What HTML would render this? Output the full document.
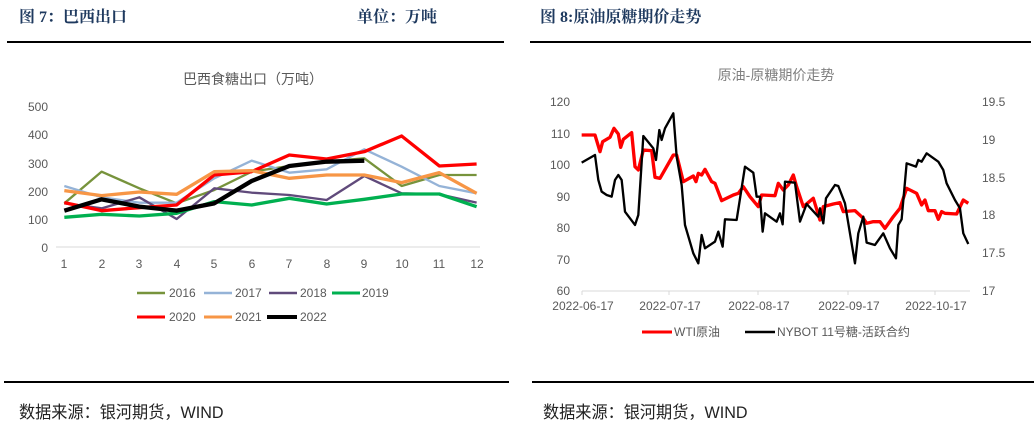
<!DOCTYPE html>
<html><head><meta charset="utf-8"><style>
html,body{margin:0;padding:0;background:#fff;}
body{width:1036px;height:432px;position:relative;overflow:hidden;font-family:"Liberation Sans","Noto Sans CJK SC",sans-serif;}
.h{position:absolute;top:4px;font-size:16px;font-weight:bold;color:#1f3a5f;font-family:"Liberation Serif","Noto Serif CJK SC",serif;}
.ln{position:absolute;height:2px;background:#000;}
.src{position:absolute;top:398px;font-size:17px;color:#222;transform:scaleX(0.95);transform-origin:left;}
</style></head><body>
<div class="h" style="left:19px">图 7：巴西出口</div>
<div class="h" style="left:357px">单位：万吨</div>
<div class="h" style="left:540px">图 8:原油原糖期价走势</div>
<div class="ln" style="left:7px;width:497px;top:41px"></div>
<div class="ln" style="left:530px;width:501px;top:41px"></div>
<div class="ln" style="left:4px;width:505px;top:381px"></div>
<div class="ln" style="left:532px;width:502px;top:381px"></div>
<div class="src" style="left:19px">数据来源：银河期货，WIND</div>
<div class="src" style="left:543px">数据来源：银河期货，WIND</div>
<svg width="1036" height="432" style="position:absolute;left:0;top:0" font-family="Liberation Sans, Noto Sans CJK SC, sans-serif">
<text x="253" y="84" font-size="14" fill="#595959" text-anchor="middle">巴西食糖出口（万吨）</text>
<g font-size="12" fill="#595959" text-anchor="end">
<text x="48" y="111">500</text><text x="48" y="139">400</text><text x="48" y="168">300</text><text x="48" y="196">200</text><text x="48" y="224">100</text><text x="48" y="252">0</text></g>
<line x1="56" y1="247" x2="480" y2="247" stroke="#d9d9d9"/>
<g font-size="12" fill="#595959" text-anchor="middle">
<text x="64" y="268">1</text><text x="102" y="268">2</text><text x="139" y="268">3</text><text x="177" y="268">4</text><text x="214" y="268">5</text><text x="252" y="268">6</text><text x="289" y="268">7</text><text x="327" y="268">8</text><text x="364" y="268">9</text><text x="402" y="268">10</text><text x="439" y="268">11</text><text x="477" y="268">12</text></g>
<g transform="translate(0,60) scale(0.3333)" fill="none" stroke-linejoin="round">
<polyline stroke="#77933c" stroke-width="7" points="193,430 305,335 418,385 530,430 643,390 755,335 868,318 980,305 1093,295 1205,378 1318,345 1430,345"/>
<polyline stroke="#95b3d7" stroke-width="7" points="193,378 305,412 418,428 530,428 643,355 755,302 868,338 980,328 1093,268 1205,320 1318,378 1430,400"/>
<polyline stroke="#604a7b" stroke-width="7" points="193,430 305,445 418,412 530,477 643,385 755,398 868,405 980,420 1093,348 1205,400 1318,403 1430,428"/>
<polyline stroke="#00b050" stroke-width="10" points="193,472 305,463 418,468 530,460 643,425 755,435 868,415 980,432 1093,418 1205,402 1318,402 1430,440"/>
<polyline stroke="#ff0000" stroke-width="10" points="193,428 305,452 418,443 530,435 643,345 755,335 868,285 980,297 1093,275 1205,228 1318,318 1430,312"/>
<polyline stroke="#f79646" stroke-width="10" points="193,392 305,407 418,396 530,403 643,335 755,332 868,355 980,345 1093,345 1205,368 1318,338 1430,400"/>
<polyline stroke="#000" stroke-width="13" points="193,452 305,418 418,440 530,452 643,430 755,363 868,318 980,305 1093,302"/>
</g>
<g font-size="12" fill="#595959">
<line x1="137" y1="293" x2="165" y2="293" stroke="#77933c" stroke-width="2.5"/><text x="169" y="297">2016</text>
<line x1="204" y1="293" x2="232" y2="293" stroke="#95b3d7" stroke-width="2.5"/><text x="235" y="297">2017</text>
<line x1="269" y1="293" x2="297" y2="293" stroke="#604a7b" stroke-width="2.5"/><text x="300" y="297">2018</text>
<line x1="332" y1="293" x2="360" y2="293" stroke="#00b050" stroke-width="3"/><text x="362" y="297">2019</text>
<line x1="137" y1="317" x2="165" y2="317" stroke="#ff0000" stroke-width="3"/><text x="169" y="321">2020</text>
<line x1="204" y1="317" x2="232" y2="317" stroke="#f79646" stroke-width="3"/><text x="235" y="321">2021</text>
<line x1="267" y1="317" x2="297" y2="317" stroke="#000" stroke-width="4"/><text x="300" y="321">2022</text>
</g>
<text x="776" y="80" font-size="14" fill="#7f7f7f" text-anchor="middle">原油-原糖期价走势</text>
<g font-size="12" fill="#595959" text-anchor="end">
<text x="570" y="106">120</text><text x="570" y="138">110</text><text x="570" y="169">100</text><text x="570" y="201">90</text><text x="570" y="232">80</text><text x="570" y="264">70</text><text x="570" y="295">60</text></g>
<g font-size="12" fill="#595959">
<text x="982" y="106">19.5</text><text x="982" y="144">19</text><text x="982" y="182">18.5</text><text x="982" y="219">18</text><text x="982" y="257">17.5</text><text x="982" y="295">17</text></g>
<line x1="582" y1="291" x2="970" y2="291" stroke="#d9d9d9"/>
<g stroke="#d9d9d9"><line x1="582" y1="291" x2="582" y2="295"/><line x1="669" y1="291" x2="669" y2="295"/><line x1="758" y1="291" x2="758" y2="295"/><line x1="848" y1="291" x2="848" y2="295"/><line x1="935" y1="291" x2="935" y2="295"/></g>
<g font-size="12" fill="#595959" text-anchor="middle">
<text x="583" y="310">2022-06-17</text><text x="670" y="310">2022-07-17</text><text x="759" y="310">2022-08-17</text><text x="849" y="310">2022-09-17</text><text x="936" y="310">2022-10-17</text></g>
<g transform="translate(530,60) scale(0.3333)" fill="none" stroke-linejoin="round">
<polyline stroke="#ff0000" stroke-width="10" points="155,225 195,225 210,275 218,245 240,232 252,205 265,222 272,262 280,238 305,218 315,320 325,330 340,270 365,272 375,352 390,355 430,285 440,285 460,365 490,348 498,365 505,340 515,345 525,328 545,365 555,370 575,422 610,405 625,400 640,380 660,410 685,440 695,405 735,407 745,370 760,390 775,375 790,345 800,380 820,440 850,415 870,480 880,440 910,432 930,428 940,455 975,452 1000,475 1010,490 1030,485 1050,485 1065,505 1090,470 1110,445 1130,385 1160,400 1175,435 1185,420 1195,452 1215,452 1225,478 1235,455 1245,460 1280,462 1300,420 1315,430"/>
<polyline stroke="#000" stroke-width="7" points="155,308 195,285 205,360 215,395 230,405 245,410 255,360 265,345 275,360 285,455 315,495 325,465 340,228 370,265 378,300 388,210 395,240 405,205 430,160 440,290 455,375 465,495 490,580 505,610 515,525 525,565 555,545 565,515 578,560 585,478 620,480 645,320 670,338 680,410 690,410 698,515 705,460 740,485 750,460 758,493 765,365 795,368 810,485 830,432 865,470 870,445 880,490 888,415 915,375 925,378 945,430 975,610 985,520 1000,470 1010,548 1035,555 1060,520 1080,565 1098,595 1105,495 1115,478 1130,310 1158,320 1165,300 1175,305 1190,280 1225,305 1240,330 1250,370 1275,420 1290,445 1300,520 1315,552"/>
</g>
<g font-size="12" fill="#595959">
<line x1="642" y1="332" x2="672" y2="332" stroke="#ff0000" stroke-width="3"/><text x="674" y="336">WTI原油</text>
<line x1="745" y1="332" x2="775" y2="332" stroke="#000" stroke-width="2.5"/><text x="777" y="336">NYBOT 11号糖-活跃合约</text>
</g>
</svg>
</body></html>
